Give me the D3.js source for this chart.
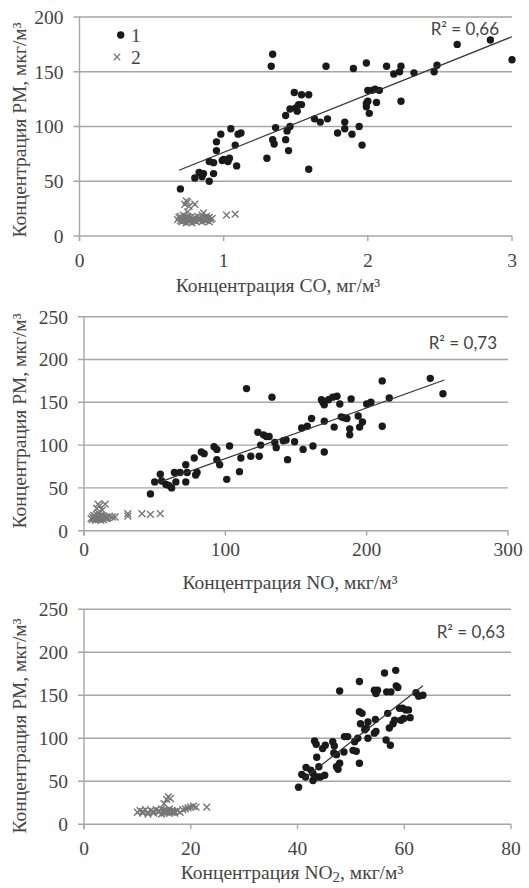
<!DOCTYPE html>
<html>
<head>
<meta charset="utf-8">
<script src="https://cdn.jsdelivr.net/npm/d3@7"></script>
<style>
  body { margin: 0; background: #fff; }
  svg { display: block; }
</style>
</head>
<body>
<div id="chart"></div>
<script>
// group 1 (dots) per panel: [x, PM]
const co1 = [[0.70,43],[0.80,53],[0.83,58],[0.85,54],[0.86,57],[0.90,50],[0.93,57],[0.90,68],[0.93,67],[0.95,78],[0.95,86],
  [0.98,93],[0.99,69],[1.00,70],[1.03,68],[1.04,71],[1.05,98],[1.08,83],[1.09,64],[1.10,93],[1.12,94],[1.30,71],[1.33,155],
  [1.34,166],[1.34,88],[1.35,84],[1.36,99],[1.43,88],[1.43,110],[1.44,96],[1.45,78],[1.46,100],[1.46,116],[1.49,131],
  [1.50,117],[1.51,114],[1.52,120],[1.54,120],[1.54,129],[1.59,129],[1.59,61],[1.63,107],[1.67,104],[1.72,107],[1.71,155],
  [1.79,94],[1.84,104],[1.84,98],[1.89,93],[1.90,153],[1.94,100],[1.96,83],[1.99,158],[1.99,118],[1.99,121],[2.00,133],
  [2.00,123],[2.01,112],[2.03,133],[2.05,134],[2.06,122],[2.08,133],[2.13,155],[2.18,148],[2.22,150],[2.23,155],[2.23,123],
  [2.32,149],[2.46,150],[2.48,156],[2.62,175],[2.85,179],[3.00,161]];

const no1 = [[47,43],[50,57],[54,66],[55,58],[58,54],[60,53],[62,50],[64,68],[65,57],[68,68],[72,77],[72,57],[73,68],
  [78,85],[79,65],[80,68],[83,92],[85,90],[92,98],[94,95],[94,83],[96,77],[101,60],[103,99],[111,85],[110,69],[118,87],
  [124,87],[115,166],[123,115],[125,100],[127,112],[129,110],[131,110],[133,156],[135,103],[136,97],[141,105],[143,106],
  [144,83],[149,104],[154,120],[158,122],[155,95],[161,131],[162,99],[168,153],[169,150],[170,147],[170,128],[170,92],
  [173,153],[176,156],[179,157],[177,121],[181,148],[182,133],[184,132],[186,131],[188,119],[188,112],[189,154],[194,134],
  [195,121],[197,127],[200,148],[203,150],[211,175],[211,122],[216,155],[245,178],[254,160]];

const no21 = [[40.2,43],[40.8,58],[41.5,55],[41.6,66],[42.5,63],[42.9,59],[42.9,51],[43.2,97],[43.5,93],[43.6,78],
  [43.8,55],[44.0,67],[44.3,55],[45.1,57],[44.7,88],[45.2,92],[46.6,96],[46.9,91],[46.8,83],[47.3,81],[47.3,67],[47.9,71],
  [47.6,64],[47.9,155],[48.7,84],[48.8,102],[49.4,102],[50.4,86],[51.0,85],[50.7,96],[51.3,100],[51.6,71],[51.6,166],
  [51.6,131],[52.1,129],[51.8,117],[52.6,110],[52.9,112],[53.2,119],[53.2,100],[54.4,106],[54.7,108],[54.6,122],
  [54.4,156],[54.7,152],[55.0,156],[56.3,176],[56.6,98],[56.7,154],[57.5,154],[56.9,129],[57.2,112],[57.4,92],[57.9,117],
  [58.2,121],[58.4,179],[58.5,161],[58.8,159],[59.1,135],[59.7,135],[59.4,121],[59.9,123],[60.3,133],[60.8,133],
  [61.1,124],[62.2,153],[62.7,149],[63.5,150]];

// group 2 (crosses) per panel
const co2 = [[0.68,15],[0.69,17],[0.70,14],[0.70,18],[0.71,13],[0.71,16],[0.72,15],[0.72,19],[0.73,14],[0.73,17],
  [0.74,12],[0.74,16],[0.75,15],[0.75,18],[0.76,13],[0.76,16],[0.77,14],[0.77,17],[0.78,15],[0.78,12],[0.79,16],[0.80,14],
  [0.80,17],[0.81,13],[0.82,15],[0.82,18],[0.83,14],[0.84,16],[0.85,13],[0.85,19],[0.86,15],[0.86,21],[0.87,17],[0.88,14],
  [0.88,18],[0.89,16],[0.90,13],[0.90,17],[0.91,15],[0.92,16],[0.73,29],[0.74,32],[0.75,31],[0.76,27],[0.80,29],[0.75,22],
  [1.02,19],[1.08,20]];

const no2x = [[5,14],[6,16],[6,13],[7,15],[7,18],[8,12],[8,14],[8,17],[9,15],[9,19],[10,13],[10,16],[10,21],[11,14],
  [11,17],[12,12],[12,15],[12,18],[13,14],[13,16],[14,13],[14,17],[15,15],[16,14],[16,16],[17,15],[18,17],[20,16],[22,16],
  [9,26],[10,31],[11,29],[15,31],[13,24],[31,17],[31,20],[41,20],[47,19],[54,20]];

const no22 = [[10,14],[10.5,16],[11,13],[11,15],[11.5,17],[12,12],[12,14],[12.5,16],[13,13],[13,15],[13.5,17],[14,14],
  [14,16],[14.5,12],[14.5,18],[15,13],[15,15],[15,17],[15.5,14],[15.5,16],[16,13],[16,15],[16,18],[16.5,14],[16.5,16],
  [17,15],[17,13],[17.5,16],[18,14],[18.5,17],[19,18],[19.5,19],[20,20],[20.5,21],[21,20],[23,20],
  [15.8,32],[15.5,29],[16.2,30],[15,24]];

// trend line end points [x, PM]
const trendCO = [[0.69,60],[3.0,182]];
const trendNO = [[54,57],[255,176]];
const trendNO2 = [[41,52],[63.5,161]];

const r2Labels = ['R² = 0,66', 'R² = 0,73', 'R² = 0,63'];
const xTicksCO = [0, 1, 2, 3];
const xTicksNO = [0, 100, 200, 300];
const xTicksNO2 = [0, 20, 40, 60, 80];
const yTicks1 = [0, 50, 100, 150, 200];
const yTicks2 = [0, 50, 100, 150, 200, 250];
const legendItems = ['1', '2'];

const W = 529, H = 888;
const serif = '"Liberation Serif", "Times New Roman", serif';
const sans = 'Lato, "Open Sans", sans-serif';
const gridCol = '#a6a6a6', textCol = '#444';
const fs = '19.5px';

const svg = d3.select('#chart').append('svg')
  .attr('width', W).attr('height', H);

function crossPath(x, y, s) {
  return `M${x-s},${y-s}L${x+s},${y+s}M${x-s},${y+s}L${x+s},${y-s}`;
}

function drawPanel(p) {
  const x = d3.scaleLinear().domain(p.xDomain).range([p.left, p.right]);
  const y = d3.scaleLinear().domain(p.yDomain).range([p.bottom, p.top]);
  const g = svg.append('g');

  // gridlines + y tick marks
  g.selectAll('line.grid').data(p.yTicks).join('line')
    .attr('x1', p.left - 6).attr('x2', p.right)
    .attr('y1', d => y(d)).attr('y2', d => y(d))
    .attr('stroke', gridCol).attr('stroke-width', 1.4);

  // y axis line
  g.append('line')
    .attr('x1', p.left).attr('x2', p.left)
    .attr('y1', y(p.yDomain[1])).attr('y2', p.bottom + 5)
    .attr('stroke', gridCol).attr('stroke-width', 1.4);

  // x tick marks
  g.selectAll('line.xt').data(p.xTicks).join('line')
    .attr('x1', d => x(d)).attr('x2', d => x(d))
    .attr('y1', p.bottom).attr('y2', p.bottom + 5)
    .attr('stroke', gridCol).attr('stroke-width', 1.4);

  // tick labels
  g.selectAll('text.yl').data(p.yTicks).join('text')
    .attr('x', p.left - 16).attr('y', d => y(d))
    .attr('dy', '0.35em').attr('text-anchor', 'end')
    .style('font-family', serif).style('font-size', fs).attr('fill', textCol)
    .text(d => d);
  g.selectAll('text.xl').data(p.xTicks).join('text')
    .attr('x', d => x(d)).attr('y', p.xLabelY)
    .attr('dy', '0.35em').attr('text-anchor', 'middle')
    .style('font-family', serif).style('font-size', fs).attr('fill', textCol)
    .text(d => d);

  // axis titles
  const xt = g.append('text')
    .attr('x', p.xTitleX).attr('y', p.xTitleY).attr('dy', '0.35em')
    .attr('text-anchor', 'middle')
    .style('font-family', serif).style('font-size', fs).attr('fill', textCol);
  p.xTitle(xt);
  g.append('text')
    .attr('transform', `translate(${p.yTitleX},${p.yTitleY}) rotate(-90)`)
    .attr('dy', '0.35em').attr('text-anchor', 'middle')
    .style('font-family', serif).style('font-size', fs).attr('fill', textCol)
    .text('Концентрация PM, мкг/м³');

  // group 2 crosses
  g.append('path')
    .attr('d', p.g2.map(d => crossPath(x(d[0]), y(d[1]), 3.4)).join(''))
    .attr('stroke', '#777').attr('stroke-width', 1.4).attr('fill', 'none');

  // group 1 dots
  g.selectAll('circle').data(p.g1).join('circle')
    .attr('cx', d => x(d[0])).attr('cy', d => y(d[1])).attr('r', 3.7)
    .attr('fill', '#1a1a1a');

  // trend line
  g.append('line')
    .attr('x1', x(p.trend[0][0])).attr('y1', y(p.trend[0][1]))
    .attr('x2', x(p.trend[1][0])).attr('y2', y(p.trend[1][1]))
    .attr('stroke', '#333').attr('stroke-width', 1.2);

  // R² label
  g.append('text')
    .attr('x', p.r2X).attr('y', p.r2Y).attr('dy', '0.35em')
    .attr('text-anchor', 'end')
    .style('font-family', sans).style('font-size', '17px').attr('fill', textCol)
    .text(p.r2);

  return { x, y, g };
}

const p1 = drawPanel({
  xDomain: [0, 3], yDomain: [0, 200], left: 79.5, right: 512, top: 17, bottom: 236,
  xTicks: xTicksCO, yTicks: yTicks1, xLabelY: 260, xTitleX: 278, xTitleY: 285,
  xTitle: t => t.text('Концентрация СО, мг/м³'),
  yTitleX: 19, yTitleY: 130,
  g1: co1, g2: co2, trend: trendCO, r2: r2Labels[0], r2X: 499, r2Y: 29
});

drawPanel({
  xDomain: [0, 300], yDomain: [0, 250], left: 84, right: 508, top: 316.7, bottom: 530.7,
  xTicks: xTicksNO, yTicks: yTicks2, xLabelY: 549, xTitleX: 290, xTitleY: 582,
  xTitle: t => t.text('Концентрация NO, мкг/м³'),
  yTitleX: 19, yTitleY: 421,
  g1: no1, g2: no2x, trend: trendNO, r2: r2Labels[1], r2X: 497, r2Y: 343
});

drawPanel({
  xDomain: [0, 80], yDomain: [0, 250], left: 84, right: 511, top: 609.3, bottom: 824.3,
  xTicks: xTicksNO2, yTicks: yTicks2, xLabelY: 848, xTitleX: 292, xTitleY: 872,
  xTitle: t => {
    t.append('tspan').text('Концентрация NO');
    t.append('tspan').attr('dy', '3').style('font-size', '15px').text('2');
    t.append('tspan').attr('dy', '-3').text(', мкг/м³');
  },
  yTitleX: 19, yTitleY: 726,
  g1: no21, g2: no22, trend: trendNO2, r2: r2Labels[2], r2X: 505, r2Y: 632
});

// legend (panel 1)
const leg = p1.g.append('g');
leg.append('circle').attr('cx', 120.7).attr('cy', 35).attr('r', 3.7).attr('fill', '#1a1a1a');
leg.append('path').attr('d', crossPath(117, 57, 3.2))
  .attr('stroke', '#777').attr('stroke-width', 1.3);
leg.selectAll('text').data(legendItems).join('text')
  .attr('x', 131).attr('y', (d, i) => 35 + i * 22).attr('dy', '0.35em')
  .style('font-family', serif).style('font-size', fs).attr('fill', textCol)
  .text(d => d);
</script>
</body>
</html>
